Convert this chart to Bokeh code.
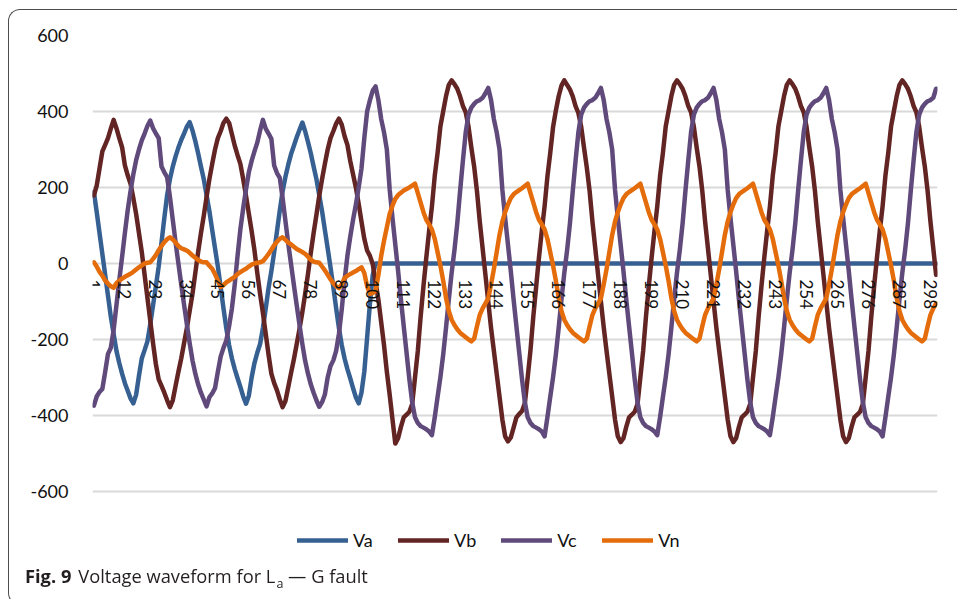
import math
from bokeh.plotting import figure
from bokeh.layouts import column
from bokeh.models import (Range1d, LinearAxis, FixedTicker, Legend, LegendItem,
                          ColumnDataSource, Div)
from bokeh.embed import file_html
from bokeh.resources import INLINE

# ---------------- data ----------------
sample = list(range(1, 301))

va = [
    188, 135, 80, 25, -30, -85, -140, -185, -230, -262,
    -290, -315, -335, -355, -368, -345, -295, -250, -228, -205,
    -160, -110, -60, -8, 55, 120, 180, 222, 255, 282,
    305, 325, 342, 360, 372, 350, 322, 290, 255, 222,
    180, 138, 88, 40, -8, -62, -118, -170, -215, -250,
    -278, -302, -325, -350, -369, -348, -300, -262, -235, -212,
    -170, -118, -65, -20, 30, 85, 140, 190, 228, 260,
    288, 310, 332, 352, 371, 348, 320, 290, 255, 222,
    180, 138, 88, 40, -10, -62, -118, -170, -215, -250,
    -278, -302, -328, -352, -368, -340, -285, -195, -105, -30,
    0, 0, 0, 0, 0, 0, 0, 0, 0, 0, 0, 0, 0, 0, 0, 0, 0, 0, 0, 0,
    0, 0, 0, 0, 0, 0, 0, 0, 0, 0, 0, 0, 0, 0, 0, 0, 0, 0, 0, 0,
    0, 0, 0, 0, 0, 0, 0, 0, 0, 0, 0, 0, 0, 0, 0, 0, 0, 0, 0, 0,
    0, 0, 0, 0, 0, 0, 0, 0, 0, 0, 0, 0, 0, 0, 0, 0, 0, 0, 0, 0,
    0, 0, 0, 0, 0, 0, 0, 0, 0, 0, 0, 0, 0, 0, 0, 0, 0, 0, 0, 0,
    0, 0, 0, 0, 0, 0, 0, 0, 0, 0, 0, 0, 0, 0, 0, 0, 0, 0, 0, 0,
    0, 0, 0, 0, 0, 0, 0, 0, 0, 0, 0, 0, 0, 0, 0, 0, 0, 0, 0, 0,
    0, 0, 0, 0, 0, 0, 0, 0, 0, 0, 0, 0, 0, 0, 0, 0, 0, 0, 0, 0,
    0, 0, 0, 0, 0, 0, 0, 0, 0, 0, 0, 0, 0, 0, 0, 0, 0, 0, 0, 0,
    0, 0, 0, 0, 0, 0, 0, 0, 0, 0, 0, 0, 0, 0, 0, 0, 0, 0, 0, 0,
]

vb = [
    179, 205, 250, 295, 312, 330, 355, 378, 356, 330,
    306, 258, 232, 210, 172, 130, 80, 30, -30, -90,
    -150, -210, -265, -305, -322, -340, -360, -378, -360, -322,
    -285, -250, -210, -170, -125, -80, -25, 30, 80, 125,
    175, 222, 262, 300, 330, 348, 370, 381, 370, 340,
    310, 285, 262, 222, 178, 131, 85, 35, -25, -80,
    -130, -185, -240, -290, -315, -334, -358, -378, -362, -325,
    -288, -252, -212, -172, -128, -80, -28, 28, 80, 128,
    178, 222, 262, 300, 330, 348, 368, 381, 365, 335,
    312, 270, 235, 200, 157, 110, 65, 34, 20, -2,
    -50, -95, -155, -215, -285, -345, -410, -474, -460, -430,
    -405, -398, -390, -370, -300, -230, -140, -60, 15, 85,
    150, 230, 290, 360, 400, 440, 470, 482, 472, 460,
    440, 415, 398, 360, 305, 255, 190, 110, 40, -30,
    -100, -170, -230, -290, -350, -410, -455, -468, -458, -432,
    -405, -396, -388, -368, -300, -228, -140, -62, 15, 85,
    150, 228, 290, 358, 402, 440, 468, 482, 470, 458,
    440, 414, 396, 360, 305, 252, 190, 110, 40, -30,
    -100, -168, -230, -290, -350, -410, -455, -470, -460, -430,
    -405, -398, -390, -370, -300, -230, -140, -60, 15, 85,
    150, 230, 290, 360, 400, 440, 470, 482, 472, 460,
    440, 415, 398, 360, 305, 255, 190, 110, 40, -30,
    -100, -170, -230, -290, -350, -410, -455, -470, -460, -430,
    -405, -398, -390, -370, -300, -230, -140, -60, 15, 85,
    150, 230, 290, 360, 400, 440, 470, 482, 472, 460,
    440, 415, 398, 360, 305, 255, 190, 110, 40, -30,
    -100, -170, -230, -290, -350, -410, -455, -470, -460, -430,
    -405, -398, -390, -370, -300, -230, -140, -60, 15, 85,
    150, 230, 290, 360, 400, 440, 470, 482, 472, 460,
    440, 415, 398, 360, 305, 255, 190, 110, 40, -30,
]

vc = [
    -374, -350, -338, -330, -285, -238, -222, -175, -110, -45,
    17, 80, 140, 190, 235, 272, 300, 324, 342, 362,
    376, 356, 342, 330, 255, 240, 227, 175, 115, 55,
    0, -55, -108, -160, -210, -255, -290, -318, -340, -358,
    -376, -352, -342, -328, -285, -245, -222, -203, -165, -118,
    -55, 20, 90, 145, 195, 240, 270, 295, 318, 350,
    378, 355, 342, 328, 258, 238, 225, 172, 112, 52,
    -2, -57, -110, -162, -212, -256, -290, -318, -340, -360,
    -377, -365, -345, -300, -270, -255, -230, -185, -120, -45,
    20, 70, 115, 155, 200, 250, 330, 400, 430, 455,
    466, 430, 380, 345, 300, 195, 120, 50, -20, -95,
    -165, -235, -305, -365, -405, -420, -428, -432, -436, -442,
    -452, -405, -352, -300, -240, -170, -95, -25, 35, 105,
    190, 270, 345, 392, 410, 420, 427, 430, 436, 448,
    462, 430, 380, 345, 300, 195, 120, 50, -20, -95,
    -165, -235, -305, -365, -405, -420, -428, -432, -436, -442,
    -455, -405, -352, -300, -240, -170, -95, -25, 35, 105,
    190, 270, 345, 392, 410, 420, 427, 430, 436, 448,
    462, 430, 380, 345, 300, 195, 120, 50, -20, -95,
    -165, -235, -305, -365, -405, -420, -428, -432, -436, -442,
    -452, -405, -352, -300, -240, -170, -95, -25, 35, 105,
    190, 270, 345, 392, 410, 420, 427, 430, 436, 448,
    462, 430, 380, 345, 300, 195, 120, 50, -20, -95,
    -165, -235, -305, -365, -405, -420, -428, -432, -436, -442,
    -452, -405, -352, -300, -240, -170, -95, -25, 35, 105,
    190, 270, 345, 392, 410, 420, 427, 430, 436, 448,
    462, 430, 380, 345, 300, 195, 120, 50, -20, -95,
    -165, -235, -305, -365, -405, -420, -428, -432, -436, -442,
    -455, -405, -352, -300, -240, -170, -95, -25, 35, 105,
    190, 270, 345, 392, 410, 420, 427, 430, 436, 460,
]

vn = [
    3, -8, -22, -32, -45, -53, -60, -64, -52, -45,
    -40, -35, -31, -27, -22, -16, -10, -5, 0, 2,
    3, 12, 22, 35, 46, 56, 64, 69, 63, 55,
    46, 40, 37, 34, 28, 21, 15, 9, 5, 3,
    3, -6, -14, -28, -45, -62, -57, -50, -45, -40,
    -35, -28, -23, -18, -14, -8, -3, 0, 2, 3,
    6, 15, 25, 36, 48, 57, 65, 69, 62, 55,
    50, 44, 38, 34, 30, 25, 18, 10, 5, 3,
    2, -8, -18, -30, -42, -52, -60, -65, -55, -38,
    -32, -28, -24, -20, -15, -10, -25, -60, -80, -78,
    -72, -30, 20, 60, 95, 130, 152, 170, 180, 186,
    192, 196, 200, 205, 210, 185, 160, 135, 115, 103,
    90, 65, 30, -5, -45, -90, -125, -148, -162, -173,
    -182, -188, -194, -200, -205, -198, -165, -135, -118, -105,
    -92, -55, -15, 30, 75, 110, 135, 155, 172, 182,
    188, 193, 198, 204, 210, 185, 160, 135, 115, 103,
    90, 65, 30, -5, -45, -90, -125, -148, -162, -173,
    -182, -188, -194, -200, -205, -198, -165, -135, -118, -105,
    -92, -55, -15, 30, 75, 110, 135, 155, 172, 182,
    188, 193, 198, 204, 210, 185, 160, 135, 115, 103,
    90, 65, 30, -5, -45, -90, -125, -148, -162, -173,
    -182, -188, -194, -200, -205, -198, -165, -135, -118, -105,
    -92, -55, -15, 30, 75, 110, 135, 155, 172, 182,
    188, 193, 198, 204, 210, 185, 160, 135, 115, 103,
    90, 65, 30, -5, -45, -90, -125, -148, -162, -173,
    -182, -188, -194, -200, -205, -198, -165, -135, -118, -105,
    -92, -55, -15, 30, 75, 110, 135, 155, 172, 182,
    188, 193, 198, 204, 210, 185, 160, 135, 115, 103,
    90, 65, 30, -5, -45, -90, -125, -148, -162, -173,
    -182, -188, -194, -200, -205, -198, -165, -135, -118, -105,
]

series_names = ["Va", "Vb", "Vc", "Vn"]
series_colors = ["#376092", "#632523", "#604A7B", "#E46C0A"]

x_ticks = [1, 12, 23, 34, 45, 56, 67, 78, 89, 100, 111, 122, 133, 144,
           155, 166, 177, 188, 199, 210, 221, 232, 243, 254, 265, 276, 287, 298]
x_tick_labels = ["1", "12", "23", "34", "45", "56", "67", "78", "89", "100",
                 "111", "122", "133", "144", "155", "166", "177", "188", "199",
                 "210", "221", "232", "243", "254", "265", "276", "287", "298"]
y_ticks = [-600, -400, -200, 0, 200, 400, 600]
y_tick_labels = ["-600", "-400", "-200", "0", "200", "400", "600"]

caption_bold = "Fig. 9"
caption_text = "Voltage waveform for L"
caption_sub = "a"
caption_tail = "\u2014 G fault"

# ---------------- figure ----------------
# the plot frame reaches down to the legend row so that the legend is not clipped;
# the value axis still runs -600..600 (gridlines / ticks only there)
p = figure(width=950, height=597,
           x_range=Range1d(0.5, 300.5), y_range=Range1d(-758, 600),
           output_backend="svg", toolbar_location=None,
           x_axis_location=None,
           min_border_left=92, min_border_right=13,
           min_border_top=35, min_border_bottom=46)
p.outline_line_color = None
p.background_fill_color = "white"

for g in p.xgrid:
    g.visible = False
p.ygrid.ticker = FixedTicker(ticks=y_ticks)
p.ygrid.grid_line_color = "#D9D9D9"
p.ygrid.grid_line_width = 2

yax = p.yaxis[0]
yax.ticker = FixedTicker(ticks=y_ticks)
yax.major_label_overrides = dict(zip(y_ticks, y_tick_labels))
yax.axis_line_color = None
yax.major_tick_line_color = None
yax.minor_tick_line_color = None
yax.major_tick_in = 0
yax.major_tick_out = 0
yax.major_label_standoff = 24
yax.major_label_text_font = "Lato"
yax.major_label_text_font_size = "18px"
yax.major_label_text_color = "#111111"

xax = LinearAxis(fixed_location=0,
                 ticker=FixedTicker(ticks=x_ticks),
                 major_label_overrides=dict(zip(x_ticks, x_tick_labels)),
                 major_label_orientation=-math.pi / 2,
                 major_label_standoff=16,
                 axis_line_color=None,
                 major_tick_line_color=None, minor_tick_line_color=None,
                 major_tick_in=0, major_tick_out=0,
                 major_label_text_font="Lato",
                 major_label_text_font_size="17px",
                 major_label_text_color="#111111")
p.add_layout(xax, "below")

src = ColumnDataSource(dict(sample=sample, Va=va, Vb=vb, Vc=vc, Vn=vn))
items = []
for name, color in zip(series_names, series_colors):
    r = p.line("sample", name, source=src, line_color=color, line_width=4.5,
               line_join="round", line_cap="round")
    items.append(LegendItem(label=name, renderers=[r]))

legend = Legend(items=items, location=(205, 0), orientation="horizontal",
                glyph_width=51, glyph_height=20, label_standoff=5, spacing=25,
                padding=0, margin=0, border_line_color=None,
                background_fill_alpha=0, label_text_font="Lato",
                label_text_font_size="18px", label_text_color="#111111")
p.add_layout(legend, "center")

caption_html = (
    '<div style="position:fixed;left:8px;top:9px;width:2000px;height:594px;'
    'box-sizing:content-box;'
    'border-left:1.5px solid #4d4d4d;border-top:1.5px solid #4d4d4d;'
    'border-bottom:1.5px solid #4d4d4d;border-radius:12px 0 0 12px;'
    'pointer-events:none;"></div>'
    '<div style="position:fixed;left:25px;top:563px;white-space:nowrap;'
    'font-family:\'Open Sans\';font-size:18.3px;line-height:normal;color:#231F20;">'
    f'<b>{caption_bold}</b><span style="margin-left:7px">{caption_text}</span>'
    f'<span style="font-size:12.5px;position:relative;top:5px;margin-left:1px">{caption_sub}</span>'
    f' {caption_tail}</div>'
)
cap = Div(text=caption_html, width=1, height=1)

layout = column(p, cap)
open("out.html", "w").write(file_html(layout, INLINE))
